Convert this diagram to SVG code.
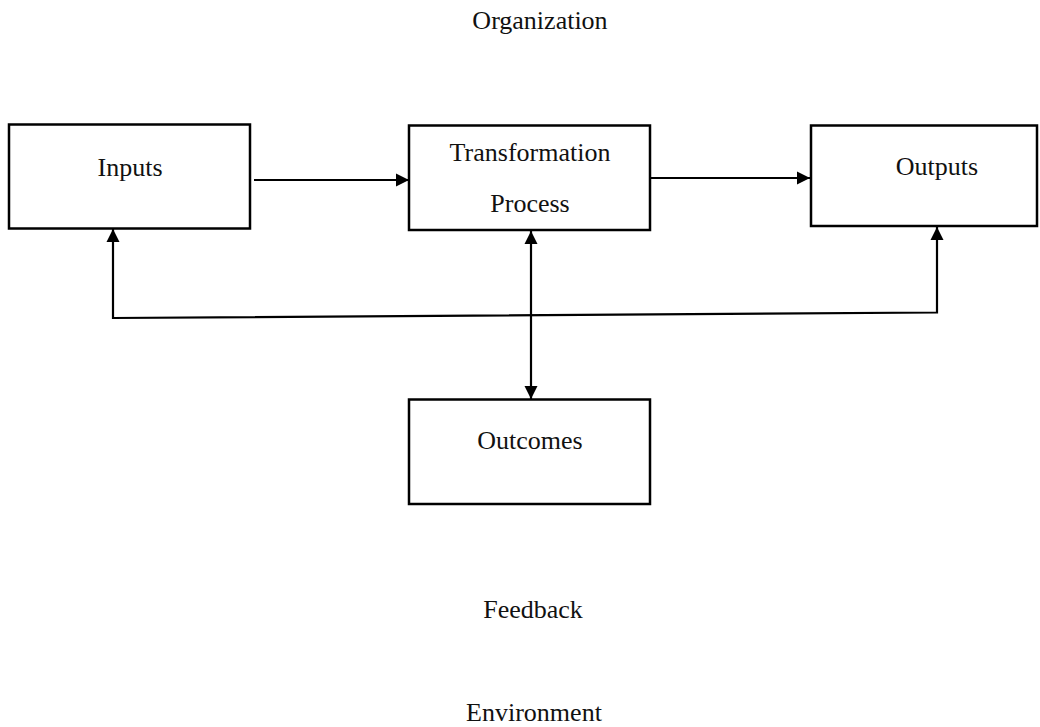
<svg xmlns="http://www.w3.org/2000/svg" width="1040" height="727" viewBox="0 0 1040 727">
<style>
.box{fill:#fff;stroke:#000;stroke-width:2.5}
.t{font-family:"Liberation Serif","Times New Roman",serif;font-size:26px;fill:#111;text-anchor:middle}
.c{fill:none;stroke:#000;stroke-width:2.2}
</style>
<defs>
<marker id="ah" viewBox="0 0 10 10" refX="10" refY="5" markerWidth="6" markerHeight="6" orient="auto-start-reverse" markerUnits="strokeWidth">
<path d="M0,0 L10,5 L0,10 z" fill="#000"/>
</marker>
</defs>
<rect width="1040" height="727" fill="#fff"/>
<text class="t" x="540" y="29">Organization</text>
<g id="connectors">
<line class="c" x1="254" y1="180" x2="409" y2="180" marker-end="url(#ah)"/>
<line class="c" x1="651" y1="178" x2="810" y2="178" marker-end="url(#ah)"/>
<polyline class="c" points="113,229 113,318 937,312.5 937,227" marker-start="url(#ah)" marker-end="url(#ah)"/>
<line class="c" x1="531" y1="231" x2="531" y2="399" marker-start="url(#ah)" marker-end="url(#ah)"/>
</g>
<g id="inputs">
<rect class="box" x="9" y="124.5" width="241" height="104"/>
<text class="t" x="130" y="176">Inputs</text>
</g>
<g id="transformation">
<rect class="box" x="409" y="125.5" width="241" height="104.5"/>
<text class="t" x="530" y="161">Transformation</text>
<text class="t" x="530" y="212">Process</text>
</g>
<g id="outputs">
<rect class="box" x="811" y="125.5" width="226" height="100.5"/>
<text class="t" x="937" y="175">Outputs</text>
</g>
<g id="outcomes">
<rect class="box" x="409" y="399.5" width="241" height="104.5"/>
<text class="t" x="530" y="449">Outcomes</text>
</g>
<text class="t" x="533" y="618">Feedback</text>
<text class="t" x="534" y="721">Environment</text>
</svg>
